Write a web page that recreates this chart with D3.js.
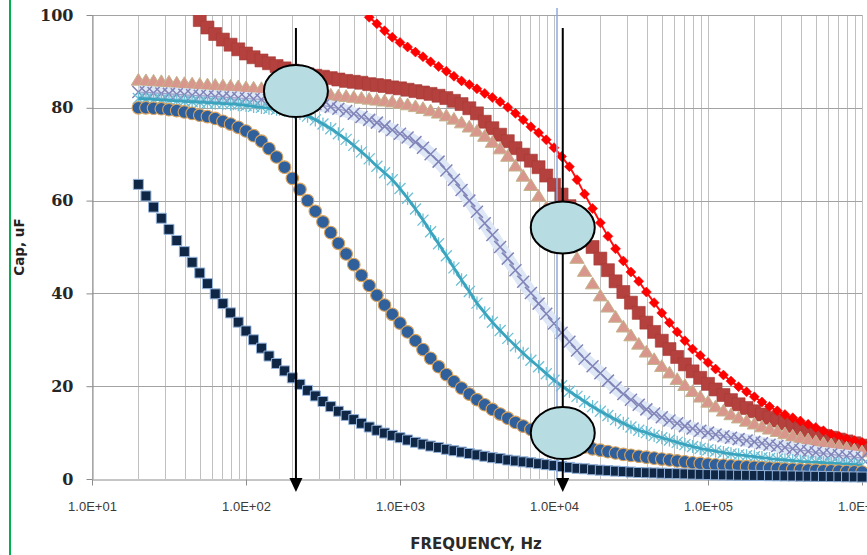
<!DOCTYPE html>
<html>
<head>
<meta charset="utf-8">
<script src="https://cdn.jsdelivr.net/npm/d3@7"></script>
<style>
html, body { margin: 0; padding: 0; background: #fff; }
svg { display: block; }
</style>
</head>
<body>
<svg id="chart" width="867" height="555"></svg>
<script>
// frequency points, Hz (20 per decade)
var freq = [20,22.4,25.1,28.2,31.6,35.5,39.8,44.7,50.1,56.2,63.1,70.8,79.4,89.1,
  100,112,126,141,158,178,200,224,251,282,316,355,398,447,501,562,631,708,794,891,
  1000,1120,1260,1410,1580,1780,2000,2240,2510,2820,3160,3550,3980,4470,5010,5620,6310,7080,7940,8910,
  10000,11200,12600,14100,15800,17800,20000,22400,25100,28200,31600,35500,39800,44700,50100,56200,63100,70800,79400,89100,
  100000,112000,126000,141000,158000,178000,200000,224000,251000,282000,316000,355000,398000,447000,501000,562000,631000,708000,794000,891000,
  1000000];

// capacitance, uF (null = off the top of the chart)
var capDarkRed = [null,null,null,null,null,null,null,null,98.9,97.3,95.9,94.7,93.6,92.6,
  91.7,90.9,90.2,89.6,89.0,88.5,88.0,87.6,87.2,86.9,86.7,86.4,86.1,85.8,85.6,85.4,85.1,84.9,84.7,84.4,
  84.2,83.9,83.6,83.3,83.0,82.6,82.1,81.5,80.8,79.9,78.8,77.0,75.6,74.2,72.8,71.3,69.9,68.6,67.2,65.4,
  63.4,61.3,58.8,56.0,53.0,50.0,47.5,45.0,42.6,40.3,38.0,35.8,33.7,31.7,29.8,28.0,26.3,24.7,23.2,21.8,
  20.5,19.3,18.1,17.0,16.1,15.3,14.6,13.9,13.2,12.6,12.0,11.4,10.8,10.3,9.8,9.3,8.9,8.5,8.1,7.7,
  7.2];

var capRed = [null,null,null,null,null,null,null,null,null,null,null,null,null,null,
  null,null,null,null,null,null,null,null,null,null,null,null,null,null,null,null,99.5,98.1,96.6,95.2,
  94.1,93.1,92.0,91.0,89.9,88.9,87.9,86.8,85.8,85.0,84.1,83.1,82.2,81.3,80.1,78.8,77.4,75.9,74.6,73.1,
  71.4,69.5,67.3,64.5,61.4,58.3,55.2,52.3,49.6,47.0,44.6,42.6,40.3,38.0,35.8,33.7,31.7,29.8,28.0,26.6,
  25.1,23.7,22.4,21.1,19.9,18.8,17.7,16.6,15.6,14.7,13.9,13.2,12.5,11.8,11.1,10.4,9.7,9.2,8.7,8.3,
  7.9];

var capTriangle = [86.0,85.9,85.8,85.7,85.6,85.4,85.3,85.2,85.1,85.0,84.9,84.8,84.7,84.6,
  84.4,84.3,84.2,84.0,83.9,83.7,83.6,83.4,83.3,83.1,83.0,82.8,82.6,82.5,82.3,82.1,81.9,81.7,81.5,81.3,
  81.0,80.7,80.3,79.9,79.4,78.9,78.3,77.6,76.8,75.9,75.0,73.9,72.6,71.2,69.6,67.5,65.3,63.3,61.0,58.5,
  55.9,53.2,50.4,47.6,44.8,42.1,39.5,37.1,34.9,32.8,30.9,29.1,27.4,25.8,24.3,22.9,21.5,20.2,18.9,17.7,
  16.6,15.6,14.7,13.9,13.2,12.5,11.9,11.3,10.8,10.3,9.8,9.3,8.9,8.5,8.1,7.7,7.4,7.1,6.7,6.3,
  5.9];

var capLavender = [83.4,83.3,83.2,83.1,83.0,82.9,82.8,82.7,82.6,82.5,82.4,82.3,82.2,82.1,
  82.0,81.9,81.8,81.7,81.6,81.5,81.4,81.2,81.0,80.8,80.5,80.2,79.8,79.3,78.7,78.0,77.4,76.8,76.0,75.2,
  74.4,73.6,72.6,71.4,70.0,68.4,66.5,64.5,62.3,60.0,57.6,55.1,52.6,50.0,47.5,45.0,42.5,40.1,37.8,35.6,
  33.5,31.5,29.6,27.7,25.9,24.3,22.8,21.2,19.7,18.3,17.1,16.0,15.0,14.1,13.3,12.6,12.0,11.4,10.9,10.4,
  10.0,9.6,9.2,8.9,8.6,8.3,8.0,7.7,7.4,7.1,6.8,6.5,6.2,6.0,5.7,5.5,5.3,5.1,4.9,4.7,
  4.5];

var capTeal = [82.0,81.9,81.8,81.7,81.6,81.5,81.4,81.3,81.2,81.1,81.0,80.9,80.8,80.7,
  80.5,80.3,80.1,79.9,79.7,79.5,79.3,78.8,78.2,77.4,76.5,75.5,74.4,73.2,71.9,70.5,69.0,67.4,66.0,64.5,
  62.6,60.5,58.2,55.8,53.3,50.7,48.1,45.5,42.9,40.4,37.9,35.8,33.8,32.0,30.3,28.7,27.1,25.6,24.2,22.7,
  21.3,20.1,18.9,17.8,16.7,15.6,14.6,13.7,12.8,12.0,11.2,10.5,10.0,9.4,8.9,8.4,7.9,7.4,7.0,6.6,
  6.3,6.0,5.7,5.4,5.2,5.0,4.8,4.6,4.4,4.25,4.1,3.95,3.8,3.7,3.6,3.5,3.4,3.3,3.2,3.1,
  3.0];

var capCircle = [80.0,80.0,79.9,79.8,79.6,79.4,79.1,78.8,78.4,78.1,77.7,77.1,76.5,75.8,
  75.0,74.0,72.8,71.2,69.4,67.2,64.8,62.4,60.0,57.7,55.4,53.1,50.8,48.5,46.2,43.9,41.7,39.6,37.5,35.5,
  33.6,31.7,29.8,27.9,26.0,24.2,22.5,21.0,19.6,18.3,17.1,16.0,15.0,14.0,13.1,12.2,11.4,10.7,10.0,9.4,
  8.8,8.3,7.8,7.3,6.9,6.5,6.2,5.9,5.6,5.3,5.1,4.9,4.7,4.5,4.3,4.1,3.9,3.7,3.5,3.35,
  3.2,3.05,2.95,2.85,2.75,2.65,2.55,2.45,2.35,2.25,2.15,2.1,2.0,1.95,1.9,1.8,1.75,1.7,1.6,1.55,
  1.5];

var capNavy = [63.5,61.0,58.6,56.2,53.8,51.4,49.0,46.7,44.4,42.1,39.9,37.8,35.8,33.8,
  31.9,30.0,28.2,26.5,24.9,23.3,21.8,20.4,19.1,17.9,16.7,15.6,14.6,13.7,12.8,12.0,11.2,10.5,9.9,9.4,
  8.9,8.4,7.9,7.5,7.1,6.8,6.4,6.1,5.8,5.5,5.2,4.9,4.6,4.4,4.1,3.9,3.7,3.5,3.3,3.1,
  2.9,2.7,2.5,2.3,2.2,2.0,1.9,1.8,1.7,1.6,1.5,1.4,1.35,1.3,1.25,1.2,1.15,1.1,1.05,1.0,
  0.95,0.9,0.88,0.85,0.82,0.8,0.77,0.75,0.72,0.7,0.67,0.65,0.62,0.6,0.57,0.55,0.52,0.5,0.47,0.45,
  0.42];

var yTicks = [0, 20, 40, 60, 80, 100];
var xDecades = [1e1, 1e2, 1e3, 1e4, 1e5, 1e6];
var xTickLabels = ["1.0E+01", "1.0E+02", "1.0E+03", "1.0E+04", "1.0E+05", "1.0E+06"];

// hand-drawn markup on top of the chart
var arrowFreq = [211, 11400];
var arrowTopCap = 97.2, arrowTipCap = -2.8;
var ellipseFreq = [211, 11400, 11400];
var ellipseCap = [83.6, 54.2, 9.9];
var blueLineFreq = 10460;

var W = 867, H = 555;
var plotLeft = 92, plotRight = 862, plotTop = 15, plotBottom = 479;

var x = d3.scaleLog().domain([10, 1e6]).range([plotLeft, plotRight]);
var y = d3.scaleLinear().domain([0, 100]).range([plotBottom, plotTop]);

var svg = d3.select("#chart");

// green page edge
svg.append("line")
  .attr("x1", 10).attr("x2", 10).attr("y1", 0).attr("y2", H)
  .attr("stroke", "#00b050").attr("stroke-width", 2);

// grid
svg.append("g").selectAll("line")
  .data(x.ticks())
  .join("line")
  .attr("x1", function(d){ return Math.round(x(d)) + 0.5; })
  .attr("x2", function(d){ return Math.round(x(d)) + 0.5; })
  .attr("y1", plotTop).attr("y2", plotBottom)
  .attr("stroke", "#c0c0c0").attr("stroke-width", 1);

svg.append("g").selectAll("line")
  .data(yTicks.slice(1))
  .join("line")
  .attr("x1", plotLeft).attr("x2", plotRight)
  .attr("y1", function(d){ return Math.round(y(d)) + 0.5; })
  .attr("y2", function(d){ return Math.round(y(d)) + 0.5; })
  .attr("stroke", "#a3a3a3").attr("stroke-width", 1);

// axes
var yAxis = svg.append("g")
  .attr("transform", "translate(" + (plotLeft + 0.5) + ",0)")
  .call(d3.axisLeft(y).tickValues(yTicks).tickSize(6).tickSizeOuter(0).tickPadding(13));
yAxis.selectAll("path, line").attr("stroke", "#8c8c8c");
yAxis.selectAll("text")
  .attr("font-family", "DejaVu Serif").attr("font-weight", "bold")
  .attr("font-size", 16).attr("fill", "#262626");

var xAxis = svg.append("g")
  .attr("transform", "translate(0," + (plotBottom + 0.5) + ")")
  .call(d3.axisBottom(x).tickValues(xDecades).tickSize(6).tickSizeOuter(0).tickPadding(16)
    .tickFormat(function(d, i){ return xTickLabels[i]; }));
xAxis.selectAll("path, line").attr("stroke", "#8c8c8c");
xAxis.selectAll("text")
  .attr("font-family", "Liberation Sans").attr("font-size", 13).attr("fill", "#3a3a3a");

// series
svg.append("clipPath").attr("id", "plotclip")
  .append("rect").attr("x", 0).attr("y", plotTop).attr("width", W).attr("height", H - plotTop);

var plot = svg.append("g").attr("clip-path", "url(#plotclip)");

function points(values) {
  return freq.map(function(f, i){ return { f: f, c: values[i] }; })
             .filter(function(d){ return d.c != null; });
}

var line = d3.line()
  .x(function(d){ return x(d.f); })
  .y(function(d){ return y(d.c); })
  .curve(d3.curveMonotoneX);

function square(s){ return "M" + (-s) + "," + (-s) + "h" + (2*s) + "v" + (2*s) + "h" + (-2*s) + "Z"; }
function diamond(s){ return "M0," + (-s) + "L" + s + ",0L0," + s + "L" + (-s) + ",0Z"; }
function triangle(s){ return "M0," + (-s) + "L" + (s*1.1) + "," + (s*0.8) + "L" + (-s*1.1) + "," + (s*0.8) + "Z"; }
function cross(s){ return "M" + (-s) + "," + (-s) + "L" + s + "," + s + "M" + (-s) + "," + s + "L" + s + "," + (-s); }
function star(s){ return cross(s) + "M0," + (-s*1.2) + "L0," + (s*1.2); }

function drawMarkers(values, path, fill, stroke, sw) {
  plot.append("g").selectAll("path")
    .data(points(values))
    .join("path")
    .attr("transform", function(d){ return "translate(" + x(d.f) + "," + y(d.c) + ")"; })
    .attr("d", path)
    .attr("fill", fill)
    .attr("stroke", stroke)
    .attr("stroke-width", sw);
}

function drawLine(values, color, width) {
  plot.append("path")
    .datum(points(values))
    .attr("d", line)
    .attr("fill", "none")
    .attr("stroke", color)
    .attr("stroke-width", width);
}

// dark red squares
drawMarkers(capDarkRed, square(6.5), "#b4413d", "#a83a36", 0.6);

// red diamonds
drawLine(capRed, "#ff1010", 2);
drawMarkers(capRed, diamond(5), "#ff0000", "#f00000", 0.5);

// salmon triangles
drawMarkers(capTriangle, triangle(6.5), "#d9968c", "#c4b48c", 1);

// lavender crosses
drawLine(capLavender, "#dde7f5", 13);
drawLine(capLavender, "#9a9cc8", 1.2);
drawMarkers(capLavender, cross(6), "none", "#8184b8", 1.5);

// teal line with stars
drawMarkers(capTeal, star(5.5), "none", "#6fc0d5", 1.3);
drawLine(capTeal, "#3aa3bd", 2.8);

// blue circles
drawMarkers(capCircle, d3.symbol(d3.symbolCircle, 125)(), "#2f609c", "#d9a35e", 1.1);

// navy squares
drawMarkers(capNavy, square(5), "#0f2644", "#93b3dc", 1);

// markup
svg.append("line")
  .attr("x1", x(blueLineFreq)).attr("x2", x(blueLineFreq))
  .attr("y1", y(101.5)).attr("y2", y(0))
  .attr("stroke", "#8eaadb").attr("stroke-width", 1.5);

var arrows = svg.append("g").selectAll("g")
  .data(arrowFreq)
  .join("g")
  .attr("transform", function(d){ return "translate(" + x(d) + ",0)"; });
arrows.append("line")
  .attr("x1", 0).attr("x2", 0)
  .attr("y1", y(arrowTopCap)).attr("y2", y(arrowTipCap) - 10)
  .attr("stroke", "#000").attr("stroke-width", 2);
arrows.append("path")
  .attr("d", function(){ var t = y(arrowTipCap); return "M0," + t + "L-6.5," + (t - 14) + "L6.5," + (t - 14) + "Z"; })
  .attr("fill", "#000");

svg.append("g").selectAll("ellipse")
  .data(ellipseFreq)
  .join("ellipse")
  .attr("cx", function(d){ return x(d); })
  .attr("cy", function(d, i){ return y(ellipseCap[i]); })
  .attr("rx", 32).attr("ry", 26)
  .attr("fill", "#b7dde2")
  .attr("stroke", "#000").attr("stroke-width", 2);

// titles
svg.append("text")
  .attr("transform", "translate(24,247) rotate(-90)")
  .attr("text-anchor", "middle")
  .attr("font-family", "DejaVu Sans").attr("font-weight", "bold")
  .attr("font-size", 13.5).attr("fill", "#222")
  .text("Cap, uF");

svg.append("text")
  .attr("x", 476).attr("y", 549)
  .attr("text-anchor", "middle")
  .attr("font-family", "DejaVu Sans").attr("font-weight", "bold")
  .attr("font-size", 15).attr("fill", "#2a2a2a")
  .text("FREQUENCY, Hz");
</script>
</body>
</html>
